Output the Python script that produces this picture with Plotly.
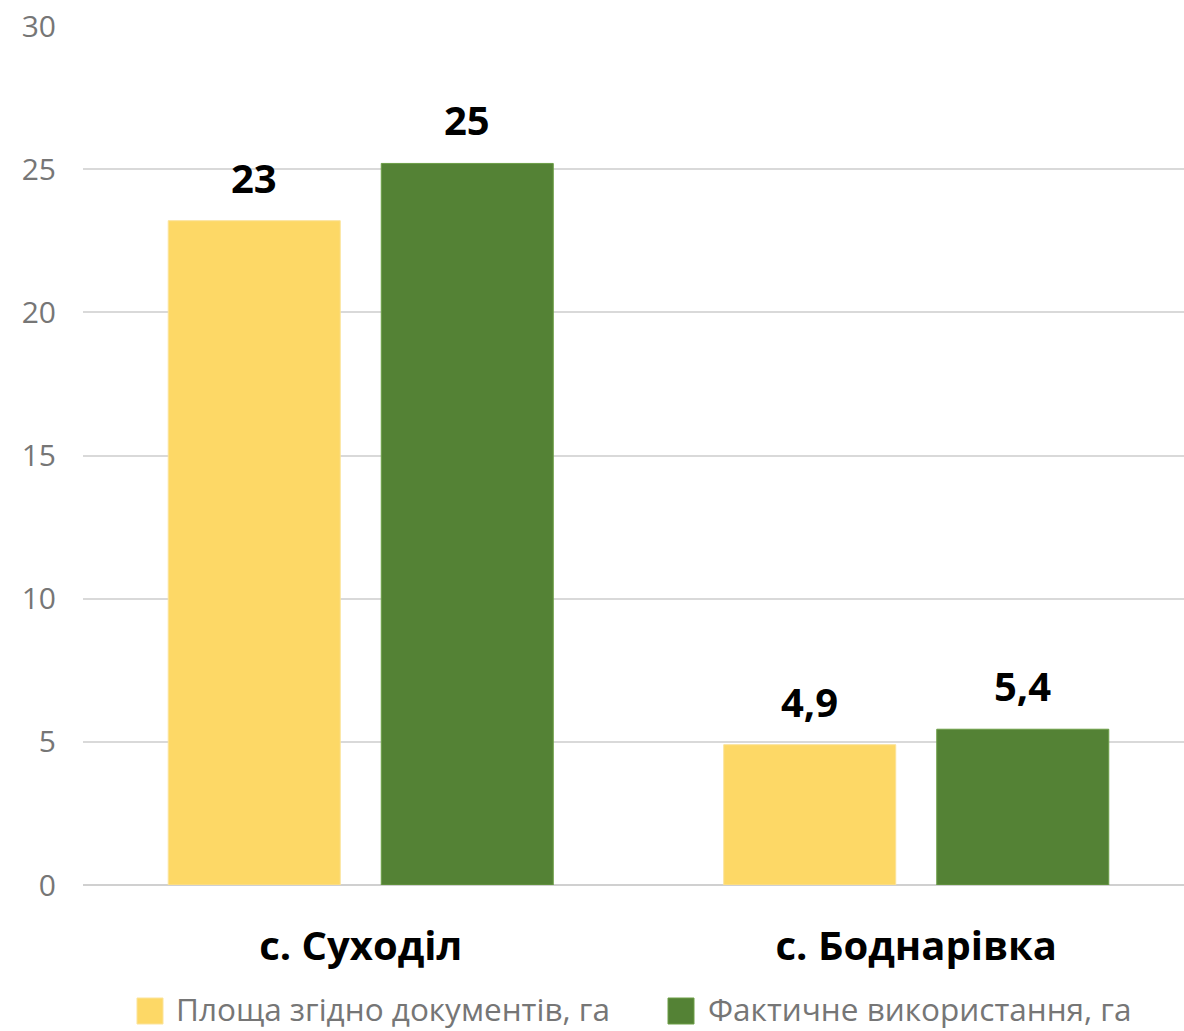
import plotly.graph_objects as go

# Settlements and areas (hectares)
villages = ["с. Суходіл", "с. Боднарівка"]
area_documented = [23.2, 4.9]
area_actual = [25.2, 5.44]
label_decimals = [0, 1]

series_names = ["Площа згідно документів, га", "Фактичне використання, га"]
series_colors = ["#FDD866", "#548235"]
series_edges = ["#FBE39A", "#6C9E47"]

y_ticks = [0, 5, 10, 15, 20, 25, 30]

W, H = 1184, 1031
M_L, M_R, M_T, M_B = 83, 0, 26, 146
BARGAP = 0.233
BARGROUPGAP = 0.1925


def fmt(v, d):
    return f"{v:.{d}f}".replace(".", ",")


fig = go.Figure()
for name, vals, col, edge in zip(series_names, [area_documented, area_actual],
                                 series_colors, series_edges):
    fig.add_trace(go.Bar(
        x=villages, y=vals, name=name,
        marker=dict(color=col, line=dict(color=edge, width=1)),
        showlegend=False, hoverinfo="x+y",
    ))

# value labels above every bar
slot = (1 - BARGAP) / 2
for s, vals in enumerate([area_documented, area_actual]):
    offset = (s - 0.5) * slot
    for i, v in enumerate(vals):
        fig.add_annotation(
            x=i + offset, y=v, xref="x", yref="y",
            text=fmt(v, label_decimals[i]), showarrow=False,
            yanchor="bottom", yshift=14,
            font=dict(family="Open Sans", size=40, color="#000000", weight="bold"),
        )

# legend drawn as swatches + captions below the category labels
plot_w = W - M_L - M_R
plot_h = H - M_T - M_B


def px_x(px):
    return (px - M_L) / plot_w


def px_y(py):
    return (H - M_B - py) / plot_h


legend_items = [(137, 174), (668, 706)]
for (sx, tx), name, col, edge in zip(legend_items, series_names, series_colors, series_edges):
    fig.add_shape(type="rect", xref="paper", yref="paper",
                  x0=px_x(sx), x1=px_x(sx + 26), y0=px_y(1024), y1=px_y(998),
                  fillcolor=col, line=dict(color=edge, width=1))
    fig.add_annotation(x=px_x(tx), y=px_y(1008), xref="paper", yref="paper",
                       text=name, showarrow=False, xanchor="left", yanchor="middle",
                       font=dict(family="Open Sans", size=31.5, color="#767676"))

fig.update_layout(
    width=W, height=H,
    margin=dict(l=M_L, r=M_R, t=M_T, b=M_B),
    paper_bgcolor="white", plot_bgcolor="white",
    barmode="group", bargap=BARGAP, bargroupgap=BARGROUPGAP,
    showlegend=False,
    separators=", ",
    xaxis=dict(
        type="category", range=[-0.5, 1.482],
        showgrid=False, showline=False, ticks="",
        tickfont=dict(family="Open Sans", size=40, color="#000000", weight="bold"),
        ticklabelstandoff=34,
    ),
    yaxis=dict(
        range=[0, 30], tickvals=y_ticks,
        showgrid=True, gridcolor="#D9D9D9", gridwidth=1.5,
        zeroline=True, zerolinecolor="#D0D0D0", zerolinewidth=1.5,
        showline=False, ticks="",
        tickfont=dict(family="Open Sans", size=30, color="#767676"),
        ticklabelstandoff=26,
    ),
)

fig.write_html("out.html")
